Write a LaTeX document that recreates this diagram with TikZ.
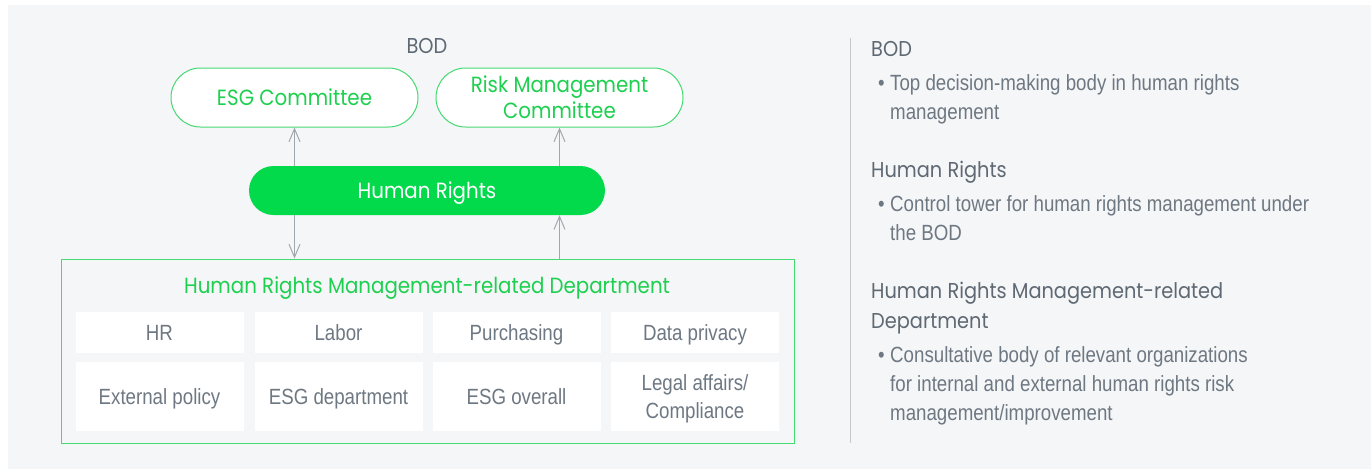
\documentclass[tikz,border=0pt]{standalone}
\usepackage{fontspec}
\usetikzlibrary{shapes.misc,arrows.meta}
\newfontfamily\pop[FakeStretch=0.9]{Poppins}
\newfontfamily\bodyf[FakeStretch=0.85]{Liberation Sans}
\definecolor{bgc}{RGB}{245,246,248}
\definecolor{gfill}{RGB}{2,217,75}
\definecolor{gtext}{RGB}{30,208,80}
\definecolor{gline}{RGB}{70,218,115}
\definecolor{txtg}{RGB}{110,120,130}
\definecolor{headg}{RGB}{95,105,115}
\definecolor{arrg}{RGB}{160,168,175}
\definecolor{sepg}{RGB}{195,200,205}
\tikzset{
  pill/.style={rounded rectangle, draw=gline, line width=1pt, fill=white, text=gtext,
    minimum width=247pt, minimum height=59pt, inner sep=0pt, align=center,
    font=\pop\fontsize{22}{26}\selectfont},
  hrpill/.style={rounded rectangle, fill=gfill, text=white, minimum width=356pt,
    minimum height=49pt, inner sep=0pt, text height=15.4pt, text depth=0pt,
    font=\pop\fontsize{22}{26}\selectfont},
  cell/.style={rectangle, fill=white, text=txtg, minimum width=168pt, inner sep=0pt,
    align=center, font=\bodyf\fontsize{22}{28}\selectfont},
  cellone/.style={cell, minimum height=41pt, text height=15.8pt, text depth=0pt},
  celltwo/.style={cell, minimum height=69pt},
  head/.style={anchor=base west, text=headg, inner sep=0pt, font=\pop\fontsize{21.5}{26}\selectfont},
  body/.style={anchor=base west, text=txtg, inner sep=0pt, font=\bodyf\fontsize{22}{26}\selectfont},
  conn/.style={draw=arrg, line width=1pt, -{Straight Barb[length=13pt,width=11pt,line width=1pt]}},
}
\begin{document}
\begin{tikzpicture}[x=1pt,y=-1pt]
\useasboundingbox (0,0) rectangle (1371,469);
\fill[white] (0,0) rectangle (1371,469);
\fill[bgc] (8,5) rectangle (1371,469);

% left diagram
\node[text=headg, inner sep=0pt, text height=15.4pt, text depth=0pt, font=\pop\fontsize{21.5}{26}\selectfont] (bod) at (427,46) {BOD};
\node[pill] (esg) at (294.5,97.5) {ESG Committee};
\node[pill] (risk) at (559.5,97.5) {Risk Management\\Committee};
\node[hrpill] (hr) at (427,190.5) {Human Rights};
\node[draw=gline, line width=1pt, minimum width=733pt, minimum height=184pt, inner sep=0pt] (dept) at (427.5,351) {};
\node[text=gtext, inner sep=0pt, text height=15.4pt, text depth=0pt, font=\pop\fontsize{22}{26}\selectfont] (depttitle) at (427,286) {Human Rights Management-related Department};

\node[cellone] (c11) at (159.5,332.5) {HR};
\node[cellone] (c12) at (338.5,332.5) {Labor};
\node[cellone] (c13) at (516.5,332.5) {Purchasing};
\node[cellone] (c14) at (695,332.5) {Data privacy};
\node[celltwo] (c21) at (159.5,396.5) {\raisebox{0pt}[15.8pt][0pt]{External policy}};
\node[celltwo] (c22) at (338.5,396.5) {\raisebox{0pt}[15.8pt][0pt]{ESG department}};
\node[celltwo] (c23) at (516.5,396.5) {\raisebox{0pt}[15.8pt][0pt]{ESG overall}};
\node[celltwo, text depth=0pt] (c24) at (695,396.5) {Legal affairs/\\Compliance};

\draw[conn] (esg.south |- hr.north) -- (esg.south);
\draw[conn] (risk.south |- hr.north) -- (risk.south);
\draw[conn] (esg.south |- hr.south) -- (esg.south |- dept.north);
\draw[conn] (risk.south |- dept.north) -- (risk.south |- hr.south);

% right side
\draw[sepg, line width=1pt] (850,38) -- (850,443);
\node[head] (h1) at (871,56) {BOD};
\node[body] (b1d) at (878,90) {\textbullet};
\node[body] (b1a) at (890,90) {Top decision-making body in human rights};
\node[body] (b1b) at (890,119) {management};
\node[head] (h2) at (871,177) {Human Rights};
\node[body] (b2d) at (878,211) {\textbullet};
\node[body] (b2a) at (890,211) {Control tower for human rights management under};
\node[body] (b2b) at (890,240) {the BOD};
\node[head] (h3a) at (871,298) {Human Rights Management-related};
\node[head] (h3b) at (871,328) {Department};
\node[body] (b3d) at (878,362) {\textbullet};
\node[body] (b3a) at (890,362) {Consultative body of relevant organizations};
\node[body] (b3b) at (890,391) {for internal and external human rights risk};
\node[body] (b3c) at (890,420) {management/improvement};
\end{tikzpicture}
\end{document}
